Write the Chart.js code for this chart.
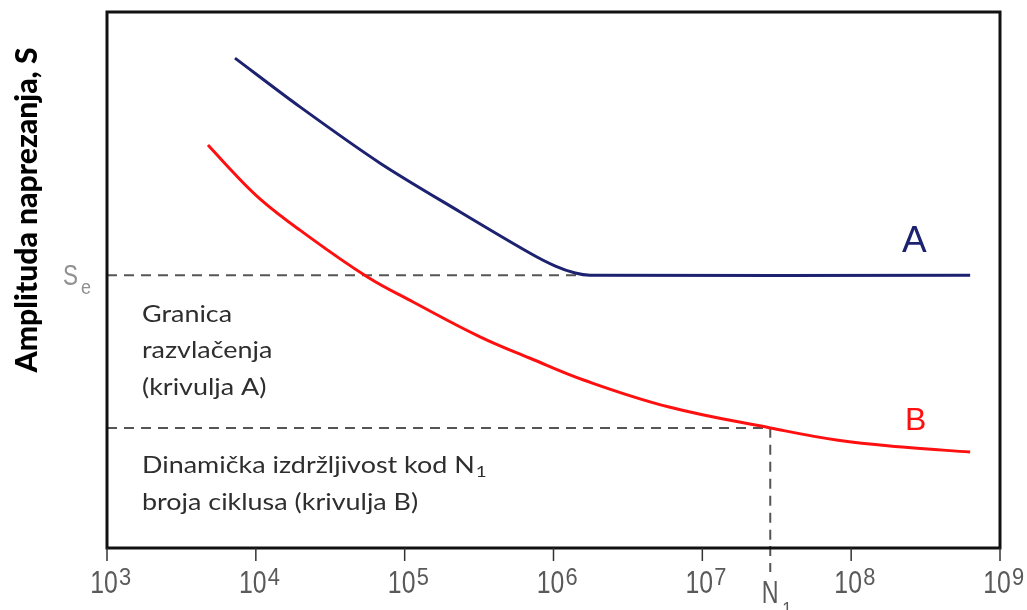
<!DOCTYPE html>
<html>
<head>
<meta charset="utf-8">
<script src="https://cdn.jsdelivr.net/npm/chart.js@4"></script>
<style>
  html, body { margin:0; padding:0; background:#fff; }
  #wrap { width:1027px; height:610px; }
</style>
</head>
<body>
<div id="wrap"><canvas id="snChart" width="1027" height="610"></canvas></div>
<script>
// ── Data ──
const decades  = [3, 4, 5, 6, 7, 8, 9];

// curve A – with endurance limit
const cyclesA = [7.24e3, 1.98e4, 6.84e4, 2.36e5, 6.97e5, 1.03e6, 1.40e6, 1.76e6, 6.3e8];
const stressA = [91.4, 82.3, 71.8, 62.7, 55.0, 52.6, 51.3, 50.9, 50.9];

// curve B – no endurance limit
const cyclesB = [4.77e3, 6.71e3, 1.07e4, 1.98e4, 5.59e4, 1.14e5, 3.21e5, 6.97e5, 1.61e6, 5.98e6, 2.86e7, 8.18e7, 2.31e8, 6.3e8];
const stressB = [75.2, 70.7, 65.1, 59.3, 50.6, 45.9, 39.4, 35.4, 31.3, 26.3, 22.4, 20.1, 18.8, 17.9];

const Se     = 50.9;   // granica razvlačenja
const N1     = 2.86e7; // broj ciklusa N1
const S_N1   = 22.4;   // dinamička izdržljivost kod N1
const Se_end = 1.58e6; // kraj crtkane linije Se

const toPts = (xs, ys) => xs.map((x, i) => ({ x: x, y: ys[i] }));

const navy = '#1c2170';
const red  = '#ff1010';
const dash = '#555555';

// ── Frame, ticks and texts ──
function drawText(ctx, s, x, y, font, color, sx, align){
  ctx.save();
  ctx.translate(x, y);
  ctx.scale(sx || 1, 1);
  ctx.font = font;
  ctx.fillStyle = color;
  ctx.textAlign = align || 'left';
  ctx.textBaseline = 'alphabetic';
  ctx.fillText(s, 0, 0);
  ctx.restore();
}

const decor = {
  id: 'decor',
  afterDraw(chart){
    const ctx = chart.ctx;
    const xs = chart.scales.x, ys = chart.scales.y;
    const a = chart.chartArea;
    const bottom = ys.getPixelForValue(0);

    // N1 dashed extension below the axis
    ctx.save();
    ctx.strokeStyle = dash;
    ctx.lineWidth = 2;
    ctx.setLineDash([10, 7]);
    const nx = xs.getPixelForValue(N1);
    ctx.beginPath();
    ctx.moveTo(nx, bottom - 2);
    ctx.lineTo(nx, bottom + 24);
    ctx.stroke();
    ctx.restore();

    // frame
    ctx.save();
    ctx.strokeStyle = '#111';
    ctx.lineWidth = 3;
    ctx.strokeRect(a.left, a.top, a.right - a.left, a.bottom - a.top);
    ctx.restore();

    // decade ticks + labels
    ctx.save();
    ctx.strokeStyle = '#333';
    ctx.lineWidth = 1.5;
    decades.forEach(e => {
      const px = xs.getPixelForValue(Math.pow(10, e));
      ctx.beginPath();
      ctx.moveTo(px, bottom);
      ctx.lineTo(px, bottom + 13);
      ctx.stroke();
      drawText(ctx, '10', px - 3, 593, '31px "Liberation Sans"', '#5a5a5a', 0.8, 'center');
      drawText(ctx, String(e), px + 12, 585, '23px "Liberation Sans"', '#5a5a5a', 0.95);
    });
    ctx.restore();

    // N1 below the axis
    drawText(ctx, 'N', nx, 603, '31px "Liberation Sans"', '#5a5a5a', 0.75, 'center');
    drawText(ctx, '1', nx + 12, 615, '19px "Liberation Sans"', '#5a5a5a', 0.9);

    // S_e on the left
    const sy = ys.getPixelForValue(Se);
    drawText(ctx, 'S', 63, sy + 10, '30px "Liberation Sans"', '#909090', 0.75);
    drawText(ctx, 'e', 81, sy + 19, '20px "Liberation Sans"', '#909090', 0.9);

    // curve names
    drawText(ctx, 'A', 902, 252, '37px "Liberation Sans"', navy, 1);
    drawText(ctx, 'B', 905, 430, '32px "Liberation Sans"', red, 1);

    // explanations
    const f = '23px Lato', c = '#2e2e2e', k = 1.17;
    drawText(ctx, 'Granica', 142, 322, f, c, k);
    drawText(ctx, 'razvlačenja', 142, 358, f, c, k);
    drawText(ctx, '(krivulja A)', 142, 395, f, c, k);
    drawText(ctx, 'Dinamička izdržljivost kod N', 142, 473, f, c, k);
    ctx.save();
    ctx.font = f;
    const w = ctx.measureText('Dinamička izdržljivost kod N').width * k;
    ctx.restore();
    drawText(ctx, '1', 142 + w + 1, 477, '16px Lato', c, k);
    drawText(ctx, 'broja ciklusa (krivulja B)', 142, 510, f, c, k);

    // y axis title
    ctx.save();
    ctx.translate(37, 210);
    ctx.rotate(-Math.PI / 2);
    ctx.font = '900 30px Lato';
    const title = 'Amplituda naprezanja, S';
    const tw = ctx.measureText(title).width;
    ctx.scale(325 / tw, 1);
    ctx.fillStyle = '#000';
    ctx.textAlign = 'center';
    ctx.textBaseline = 'alphabetic';
    ctx.fillText(title, 0, 0);
    ctx.restore();
  }
};

// ── S-N chart ──
const ctx = document.getElementById('snChart').getContext('2d');
new Chart(ctx, {
  type: 'scatter',
  data: {
    datasets: [
      {
        label: 'A',
        data: toPts(cyclesA, stressA),
        showLine: true,
        borderColor: navy,
        borderWidth: 3,
        pointRadius: 0,
        tension: 0.3,
        order: 1
      },
      {
        label: 'B',
        data: toPts(cyclesB, stressB),
        showLine: true,
        borderColor: red,
        borderWidth: 3,
        pointRadius: 0,
        tension: 0.4,
        order: 1
      },
      {
        label: 'Se',
        data: [{ x: 1e3, y: Se }, { x: Se_end, y: Se }],
        showLine: true,
        borderColor: dash,
        borderWidth: 2,
        borderDash: [10, 7],
        pointRadius: 0,
        order: 2
      },
      {
        label: 'N1',
        data: [{ x: 1e3, y: S_N1 }, { x: N1, y: S_N1 }, { x: N1, y: 0 }],
        showLine: true,
        borderColor: dash,
        borderWidth: 2,
        borderDash: [10, 7],
        pointRadius: 0,
        order: 2
      }
    ]
  },
  options: {
    responsive: false,
    animation: false,
    layout: { padding: { left: 107, right: 27, top: 12, bottom: 62 } },
    plugins: { legend: { display: false }, tooltip: { enabled: false } },
    scales: {
      x: { type: 'logarithmic', min: 1e3, max: 1e9, display: false },
      y: { type: 'linear', min: 0, max: 100, display: false }
    }
  },
  plugins: [decor]
});
</script>
</body>
</html>
